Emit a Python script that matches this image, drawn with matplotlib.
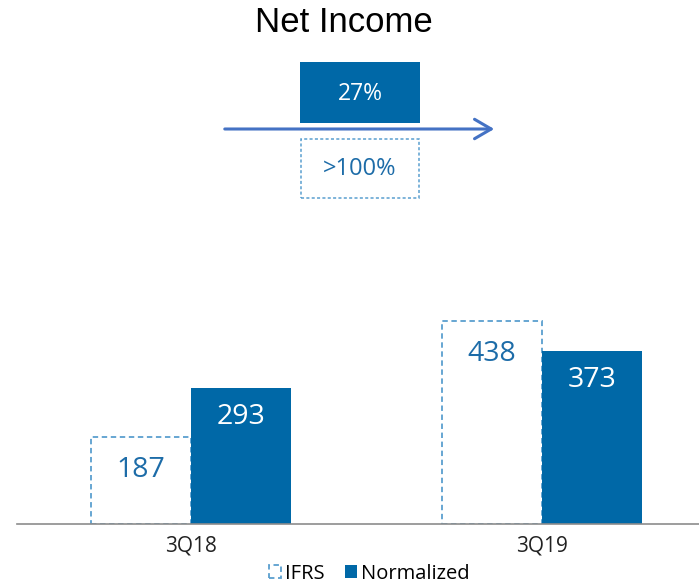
import matplotlib
matplotlib.use("Agg")
import matplotlib.pyplot as plt
from matplotlib.patches import Rectangle, FancyArrowPatch
import numpy as np

categories = ["3Q18", "3Q19"]
ifrs = [187, 438]
normalized = [293, 373]
title = "Net Income"
growth_normalized = "27%"
growth_ifrs = ">100%"
legend_labels = ["IFRS", "Normalized"]

BLUE = "#0068A7"
LIGHT = "#5A9FCF"
TEXTBLUE = "#1D6CA8"
ARROW = "#4472C4"

W, H = 699, 587
fig = plt.figure(figsize=(W / 100, H / 100), dpi=100)

def fx(x): return x / W
def fy(y): return 1 - y / H

ax_left, ax_right, ax_bottom, ax_top = 17, 699, 524, 300
ax = fig.add_axes([fx(ax_left), fy(ax_bottom), fx(ax_right - ax_left), (ax_bottom - ax_top) / H])
ax.set_ylim(0, (ax_bottom - ax_top) * 2.155)
ax.set_xlim(-0.4957, 1.447)

x = np.arange(len(categories))
w = 0.285
b1 = ax.bar(x - w / 2, ifrs, w, facecolor="white", edgecolor=LIGHT, linewidth=1.3,
            linestyle=(0, (3, 2)), label=legend_labels[0])
b2 = ax.bar(x + w / 2, normalized, w, facecolor=BLUE, edgecolor=BLUE, linewidth=0,
            label=legend_labels[1])

for rect, v in zip(b1, ifrs):
    ax.annotate(f"{v}", (rect.get_x() + rect.get_width() / 2, v), xytext=(0, -19),
                textcoords="offset pixels", ha="center", va="top",
                fontsize=20.5, color=TEXTBLUE, family="Open Sans")
for rect, v in zip(b2, normalized):
    ax.annotate(f"{v}", (rect.get_x() + rect.get_width() / 2, v), xytext=(0, -15),
                textcoords="offset pixels", ha="center", va="top",
                fontsize=20.5, color="white", family="Open Sans")

for s in ["top", "right", "left"]:
    ax.spines[s].set_visible(False)
ax.spines["bottom"].set_color("#8C8C8C")
ax.spines["bottom"].set_linewidth(1.2)
ax.set_yticks([])
ax.set_xticks(x)
ax.set_xticklabels(categories, fontsize=15, color="#222222", family="Open Sans")
ax.tick_params(axis="x", length=0, pad=8)

leg = ax.legend(loc="upper center", bbox_to_anchor=(fx(369 - ax_left) / fx(ax_right - ax_left), -0.115),
                ncol=2, frameon=False, handlelength=0.6, handleheight=0.6, borderpad=0.2,
                handletextpad=0.2, columnspacing=1.0, prop={"family": "Open Sans", "size": 14.5})

# Title
fig.text(fx(344), fy(23), title, ha="center", va="center", fontsize=25,
         family="Liberation Sans", color="black")

# Growth boxes
fig.patches.append(Rectangle((fx(300), fy(123)), fx(120), (123 - 62) / H,
                             transform=fig.transFigure, facecolor=BLUE, edgecolor="none"))
fig.text(fx(360), fy(94), growth_normalized, ha="center", va="center",
         fontsize=16.5, color="white", family="Open Sans")
fig.patches.append(Rectangle((fx(301), fy(198)), fx(118), (198 - 139) / H,
                             transform=fig.transFigure, facecolor="white", edgecolor=LIGHT,
                             linewidth=1.1, linestyle=(0, (2, 1.5))))
fig.text(fx(360), fy(169), growth_ifrs, ha="center", va="center",
         fontsize=17, color=TEXTBLUE, family="Open Sans")

arr = FancyArrowPatch((fx(222), fy(129)), (fx(497), fy(129)), transform=fig.transFigure,
                      arrowstyle="->,head_length=12,head_width=7", color=ARROW, linewidth=2.2,
                      mutation_scale=1)
fig.patches.append(arr)

fig.savefig("out.png", dpi=100)
